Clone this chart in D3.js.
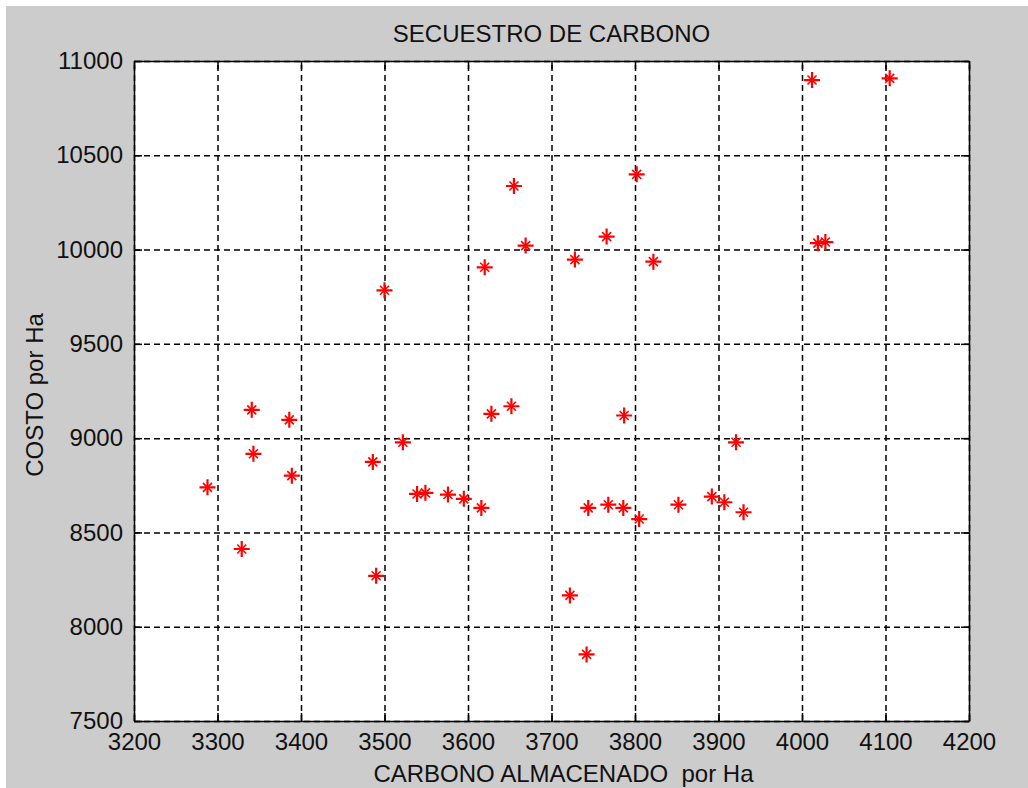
<!DOCTYPE html>
<html>
<head>
<meta charset="utf-8">
<script src="https://cdn.jsdelivr.net/npm/d3@7"></script>
<style>
  html, body { margin: 0; padding: 0; background: #ffffff; }
  svg { display: block; }
  text { font-family: "Liberation Sans", Arial, sans-serif; fill: #111; }
</style>
</head>
<body>
<svg id="chart" width="1028" height="788"></svg>
<script>
// Carbon stored per hectare vs. cost per hectare
const carbono = [3288, 3329, 3341, 3343, 3386, 3389, 3486, 3490, 3500, 3522,
                 3539, 3549, 3576, 3595, 3616, 3620, 3628, 3652, 3655, 3669,
                 3722, 3728, 3742, 3744, 3766, 3768, 3786, 3787, 3802, 3805,
                 3822, 3852, 3892, 3907, 3921, 3930, 4012, 4019, 4028, 4105];
const costo   = [8739, 8412, 9150, 8917, 9097, 8801, 8874, 8270, 9784, 8978,
                 8704, 8710, 8701, 8678, 8630, 9906, 9129, 9169, 10337, 10021,
                 8166, 9947, 7853, 8630, 10069, 8647, 8630, 9120, 10399, 8571,
                 9936, 8647, 8690, 8660, 8978, 8607, 10899, 10034, 10040, 10908];
const xTicks = [3200, 3300, 3400, 3500, 3600, 3700, 3800, 3900, 4000, 4100, 4200];
const yTicks = [7500, 8000, 8500, 9000, 9500, 10000, 10500, 11000];
const titulo = "SECUESTRO DE CARBONO";
const etiquetaX = "CARBONO ALMACENADO  por Ha";
const etiquetaY = "COSTO por Ha";

const svg = d3.select("#chart");
const W = 1028, H = 788;
const box = { left: 134, right: 969, top: 61, bottom: 721 };

// figure background
svg.append("rect").attr("x", 6).attr("y", 6).attr("width", W - 6).attr("height", H - 6)
  .attr("fill", "#cccccc");

const x = d3.scaleLinear().domain([3200, 4200]).range([box.left, box.right]);
const y = d3.scaleLinear().domain([7500, 11000]).range([box.bottom, box.top]);
const pw = box.right - box.left, ph = box.bottom - box.top;

// axes area
svg.append("rect").attr("x", box.left).attr("y", box.top).attr("width", pw).attr("height", ph)
  .attr("fill", "#ffffff");

// dashed grid
const grid = svg.append("g").attr("class", "grid");
grid.append("g").attr("transform", `translate(0,${box.bottom})`)
  .call(d3.axisBottom(x).tickValues(xTicks).tickSize(-ph).tickFormat(""));
grid.append("g").attr("transform", `translate(${box.left},0)`)
  .call(d3.axisLeft(y).tickValues(yTicks).tickSize(-pw).tickFormat(""));
grid.selectAll(".domain").remove();
grid.selectAll("line").attr("stroke", "#000").attr("stroke-width", 1.5)
  .attr("stroke-dasharray", "6,4");

// box outline with inward ticks on all four sides
function styleAxis(g) {
  g.select(".domain").attr("stroke", "#000").attr("stroke-width", 1.5);
  g.selectAll(".tick line").attr("stroke", "#000").attr("stroke-width", 1.5);
  g.selectAll("text").style("font-size", "24px").attr("fill", "#111");
}
svg.append("g").attr("transform", `translate(0,${box.bottom})`)
  .call(d3.axisBottom(x).tickValues(xTicks).tickSizeInner(-8).tickSizeOuter(0)
        .tickPadding(12).tickFormat(d3.format("d")))
  .call(styleAxis);
svg.append("g").attr("transform", `translate(0,${box.top})`)
  .call(d3.axisTop(x).tickValues(xTicks).tickSizeInner(-8).tickSizeOuter(0).tickFormat(""))
  .call(styleAxis);
svg.append("g").attr("transform", `translate(${box.left},0)`)
  .call(d3.axisLeft(y).tickValues(yTicks).tickSizeInner(-8).tickSizeOuter(0)
        .tickPadding(11).tickFormat(d3.format("d")))
  .call(styleAxis);
svg.append("g").attr("transform", `translate(${box.right},0)`)
  .call(d3.axisRight(y).tickValues(yTicks).tickSizeInner(-8).tickSizeOuter(0).tickFormat(""))
  .call(styleAxis);
svg.selectAll(".tick text").attr("font-family", null);

// asterisk markers
const pts = carbono.map((c, i) => [c, costo[i]]);
function asterisk(cx, cy) {
  const p = d3.path();
  p.moveTo(cx - 8, cy); p.lineTo(cx + 8, cy);
  p.moveTo(cx, cy - 8); p.lineTo(cx, cy + 8);
  return p.toString();
}
function diag(cx, cy) {
  const p = d3.path();
  p.moveTo(cx - 4.5, cy - 4.5); p.lineTo(cx + 4.5, cy + 4.5);
  p.moveTo(cx - 4.5, cy + 4.5); p.lineTo(cx + 4.5, cy - 4.5);
  return p.toString();
}
const marks = svg.append("g").attr("class", "marks");
marks.selectAll("path.plus").data(pts).join("path").attr("class", "plus")
  .attr("d", d => asterisk(x(d[0]), y(d[1])))
  .attr("stroke", "#ff0000").attr("stroke-width", 2.2).attr("fill", "none");
marks.selectAll("path.diag").data(pts).join("path").attr("class", "diag")
  .attr("d", d => diag(x(d[0]), y(d[1])))
  .attr("stroke", "#ff0000").attr("stroke-width", 1.6).attr("fill", "none");

// title and axis labels
svg.append("text").attr("x", (box.left + box.right) / 2).attr("y", 42)
  .attr("text-anchor", "middle").style("font-size", "24px").text(titulo);
svg.append("text").attr("x", (box.left + box.right) / 2 + 12).attr("y", 782)
  .attr("text-anchor", "middle").style("font-size", "24px").style("white-space", "pre")
  .text(etiquetaX);
svg.append("text")
  .attr("transform", `translate(43,${(box.top + box.bottom) / 2 + 4}) rotate(-90)`)
  .attr("text-anchor", "middle").style("font-size", "24px").text(etiquetaY);
</script>
</body>
</html>
